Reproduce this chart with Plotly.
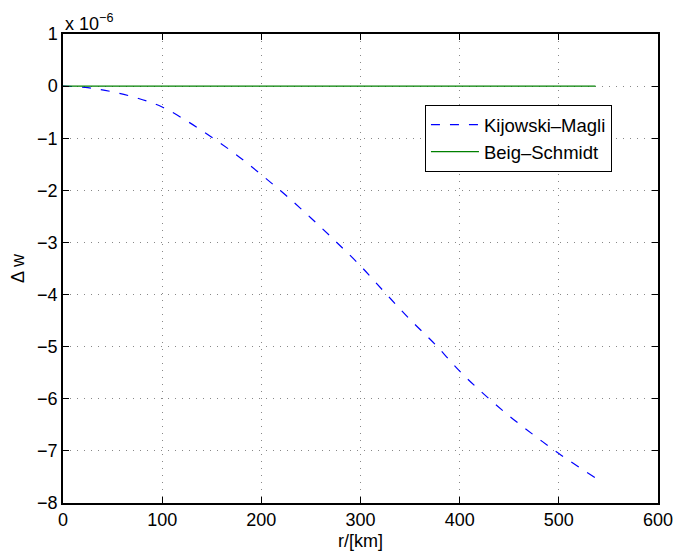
import plotly.graph_objects as go

# radius in km
r_km = [0, 25, 50, 75, 100, 125, 150, 175, 200, 225, 250, 275, 300, 325, 350,
        375, 400, 425, 450, 475, 500, 537]
# Delta w in units of 1e-6
dw_km = [0, -0.03, -0.11, -0.23, -0.40, -0.67, -0.98, -1.32, -1.70, -2.10, -2.53,
         -2.98, -3.45, -3.97, -4.48, -4.95, -5.47, -5.92, -6.33, -6.70, -7.05, -7.52]
r_bs = [0, 537]
dw_bs = [0, 0]

x_ticks = [0, 100, 200, 300, 400, 500, 600]
y_ticks = [1, 0, -1, -2, -3, -4, -5, -6, -7, -8]
y_ticktext = ["1", "0", "\u22121", "\u22122", "\u22123", "\u22124", "\u22125", "\u22126", "\u22127", "\u22128"]

FONT = "Liberation Sans, Arial, sans-serif"
FS = 18

fig = go.Figure()
fig.add_trace(go.Scatter(x=r_km, y=dw_km, mode="lines", name="Kijowski\u2013Magli",
                         legendgroup="a",
                         line=dict(color="#0000ff", width=1.2, dash="9px,10px", shape="spline")))
fig.add_trace(go.Scatter(x=r_bs, y=dw_bs, mode="lines", name="Beig\u2013Schmidt",
                         legendgroup="b",
                         line=dict(color="#008000", width=1.2)))

axis_common = dict(showgrid=True, gridcolor="#888888", griddash="1px,6px", gridwidth=1,
                   showline=True, linecolor="black", linewidth=1.5, mirror="allticks",
                   ticks="inside", ticklen=6, tickcolor="black", zeroline=False,
                   automargin=False,
                   tickfont=dict(family=FONT, size=FS, color="black"))

fig.update_xaxes(range=[0, 600], tickvals=x_ticks, **axis_common,
                 title=dict(text="r/[km]", font=dict(family=FONT, size=FS, color="black"), standoff=5))
fig.update_yaxes(range=[-8, 1], tickvals=y_ticks, ticktext=y_ticktext, **axis_common,
                 title=dict(text="\u0394 w", font=dict(family=FONT, size=FS, color="black"), standoff=8))

fig.add_annotation(text="x 10<sup>\u22126</sup>", xref="paper", yref="paper", x=0.0, y=1.0,
                   xanchor="left", yanchor="bottom", showarrow=False, yshift=-2,
                   font=dict(family=FONT, size=FS, color="black"))

fig.update_layout(width=674, height=556, margin=dict(l=63, r=16, t=34, b=53),
                  paper_bgcolor="white", plot_bgcolor="white",
                  legend=dict(x=0.608, y=0.849, xanchor="left", yanchor="top",
                              bgcolor="white", bordercolor="black", borderwidth=1.2,
                              tracegroupgap=0, traceorder="grouped", itemwidth=48,
                              font=dict(family=FONT, size=18.5, color="black")))

fig.write_html("out.html")
